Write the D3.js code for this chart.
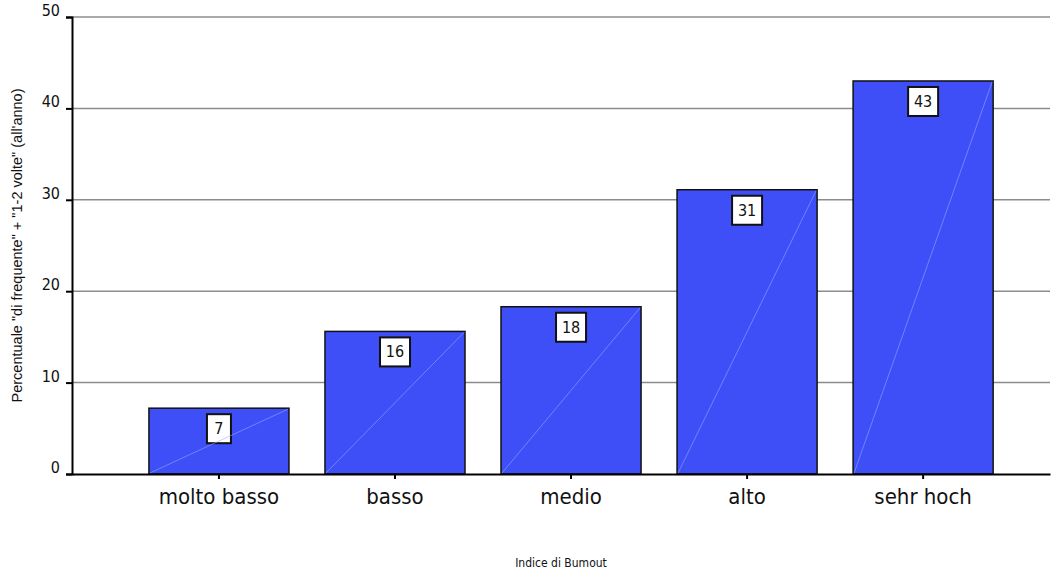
<!DOCTYPE html>
<html>
<head>
<meta charset="utf-8">
<script src="https://cdn.jsdelivr.net/npm/d3@7"></script>
<style>
  body { margin: 0; background: #fff; }
  text { font-family: "DejaVu Sans Condensed", "DejaVu Sans", sans-serif; font-stretch: condensed; fill: #111; }
  text.ytitle { font-family: "Liberation Sans", Arial, sans-serif; font-stretch: normal; }
</style>
</head>
<body>
<svg id="svg"></svg>
<script>
  const categories = ["molto basso", "basso", "medio", "alto", "sehr hoch"];
  const values = [7.2, 15.6, 18.3, 31.1, 43.0];
  const yTicks = [0, 10, 20, 30, 40, 50];

  const marginLeft = 72;
  const marginRight = 6;
  const marginTop = 17;
  const marginBottom = 95;
  const width = 1056 - marginLeft - marginRight;
  const height = 569 - marginTop - marginBottom;

  const svg = d3.select("#svg")
      .attr("width", 1056)
      .attr("height", 569);

  const xScale = d3.scaleBand()
      .range([0, width])
      .domain(categories)
      .paddingInner(0.2045)
      .paddingOuter(0.38)
      .align(0.575);

  const yScale = d3.scaleLinear()
      .range([height, 0])
      .domain([0, 50]);

  const chart = svg.append("g")
      .attr("transform", `translate(${marginLeft}, ${marginTop})`);

  // gridlines
  chart.append("g")
      .selectAll("line")
      .data(yTicks.filter(d => d > 0))
      .enter().append("line")
      .attr("x1", 0)
      .attr("x2", width)
      .attr("y1", d => yScale(d))
      .attr("y2", d => yScale(d))
      .attr("stroke", "#8c8c8c")
      .attr("stroke-width", 1.5);

  // bars
  const bars = chart.selectAll(".bar")
      .data(values)
      .enter().append("g")
      .attr("class", "bar");

  bars.append("rect")
      .attr("x", (d, i) => xScale(categories[i]))
      .attr("y", d => yScale(d))
      .attr("width", xScale.bandwidth())
      .attr("height", d => height - yScale(d))
      .attr("fill", "#3f4ff8")
      .attr("stroke", "#111")
      .attr("stroke-width", 1.5);

  // value label boxes
  const lbl = bars.append("g")
      .attr("transform", (d, i) => `translate(${xScale(categories[i]) + xScale.bandwidth() / 2}, ${yScale(d) + 6})`);

  lbl.append("rect")
      .attr("x", d => Math.round(d) >= 10 ? -15 : -12)
      .attr("y", 0)
      .attr("width", d => Math.round(d) >= 10 ? 30 : 24)
      .attr("height", 29)
      .attr("fill", "#fff")
      .attr("stroke", "#111")
      .attr("stroke-width", 2);

  lbl.append("text")
      .attr("x", 0)
      .attr("y", 20)
      .attr("text-anchor", "middle")
      .style("font-size", "16px")
      .text(d => Math.round(d));

  // faint diagonal in each bar
  bars.append("line")
      .attr("x1", (d, i) => xScale(categories[i]) + 1)
      .attr("y1", height - 1)
      .attr("x2", (d, i) => xScale(categories[i]) + xScale.bandwidth() - 1)
      .attr("y2", d => yScale(d) + 1)
      .attr("stroke", "#a0a8ff")
      .attr("stroke-width", 0.8)
      .attr("opacity", 0.7);

  // y axis
  const yAxis = chart.append("g")
      .call(d3.axisLeft(yScale).tickValues(yTicks).tickSize(6).tickPadding(6));
  yAxis.select(".domain").attr("stroke", "#000").attr("stroke-width", 2);
  yAxis.selectAll(".tick line").attr("stroke", "#000").attr("stroke-width", 2);
  yAxis.selectAll(".tick text")
      .style("font-size", "16px")
      .attr("dy", "-0.1em");

  // x axis
  const xAxis = chart.append("g")
      .attr("transform", `translate(0, ${height})`)
      .call(d3.axisBottom(xScale).tickSize(5).tickPadding(9).tickSizeOuter(0));
  xAxis.select(".domain").attr("stroke", "#000").attr("stroke-width", 2);
  xAxis.selectAll(".tick line").attr("stroke", "#000").attr("stroke-width", 2);
  xAxis.selectAll(".tick text").style("font-size", "22px");

  // axis titles
  svg.append("text")
      .attr("class", "ytitle")
      .attr("transform", `translate(22, ${marginTop + height / 2}) rotate(-90)`)
      .attr("text-anchor", "middle")
      .style("font-size", "14.5px")
      .text('Percentuale "di frequente" + "1-2 volte" (all\'anno)');

  svg.append("text")
      .attr("x", marginLeft + width / 2)
      .attr("y", 567)
      .attr("text-anchor", "middle")
      .style("font-size", "12px")
      .text("Indice di Bumout");
</script>
</body>
</html>
